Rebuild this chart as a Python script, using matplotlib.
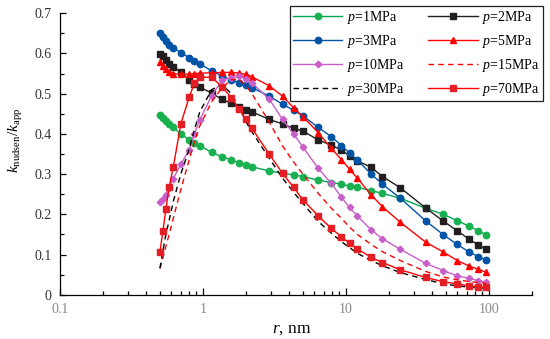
import matplotlib
matplotlib.use("Agg")
import matplotlib.pyplot as plt
from matplotlib.ticker import FuncFormatter, LogLocator, MultipleLocator, FixedLocator

plt.rcParams['font.family'] = ['Liberation Serif', 'DejaVu Serif']
plt.rcParams['mathtext.fontset'] = 'custom'
plt.rcParams['mathtext.rm'] = 'Liberation Serif'
plt.rcParams['mathtext.it'] = 'Liberation Serif:italic'

# pore radius grid (nm)
r = [0.5, 0.525, 0.55, 0.58, 0.62, 0.7, 0.8, 0.87, 0.95, 1.15, 1.36, 1.58, 1.8, 2.0, 2.2,
     2.9, 3.6, 4.3, 5.0, 6.4, 7.9, 9.3, 10.6, 12, 15, 18, 24, 36, 48, 60, 72, 84, 96]

p1 = [0.447, 0.440, 0.432, 0.425, 0.416, 0.400, 0.385, 0.377, 0.371, 0.354, 0.343, 0.335,
      0.328, 0.323, 0.318, 0.308, 0.302, 0.298, 0.294, 0.285, 0.279, 0.275, 0.270, 0.267,
      0.259, 0.252, 0.240, 0.215, 0.200, 0.184, 0.171, 0.159, 0.149]
p2 = [0.600, 0.593, 0.585, 0.575, 0.566, 0.555, 0.534, 0.525, 0.517, 0.501, 0.486, 0.476,
      0.466, 0.459, 0.455, 0.436, 0.425, 0.414, 0.407, 0.385, 0.372, 0.360, 0.345, 0.333,
      0.317, 0.294, 0.266, 0.216, 0.183, 0.159, 0.139, 0.124, 0.113]
p3 = [0.650, 0.641, 0.632, 0.622, 0.614, 0.602, 0.590, 0.581, 0.574, 0.557, 0.544, 0.534,
      0.527, 0.521, 0.515, 0.494, 0.474, 0.459, 0.445, 0.416, 0.393, 0.371, 0.352, 0.335,
      0.300, 0.275, 0.240, 0.184, 0.149, 0.125, 0.107, 0.095, 0.086]
p5 = [0.580, 0.570, 0.562, 0.555, 0.550, 0.548, 0.549, 0.550, 0.551, 0.552, 0.553, 0.553,
      0.551, 0.548, 0.542, 0.520, 0.494, 0.465, 0.443, 0.403, 0.364, 0.336, 0.312, 0.290,
      0.248, 0.219, 0.180, 0.131, 0.106, 0.085, 0.072, 0.063, 0.056]
p10 = [0.231, 0.239, 0.249, 0.266, 0.289, 0.324, 0.361, 0.400, 0.435, 0.495, 0.534, 0.540,
       0.543, 0.537, 0.527, 0.487, 0.436, 0.400, 0.367, 0.314, 0.277, 0.242, 0.217, 0.196,
       0.161, 0.139, 0.113, 0.078, 0.060, 0.047, 0.041, 0.035, 0.031]
p15 = [0.065, 0.093, 0.120, 0.150, 0.190, 0.262, 0.335, 0.380, 0.420, 0.480, 0.515, 0.535,
       0.535, 0.520, 0.500, 0.430, 0.370, 0.330, 0.300, 0.252, 0.215, 0.190, 0.168, 0.150,
       0.125, 0.107, 0.085, 0.058, 0.044, 0.037, 0.033, 0.030, 0.028]
p30 = [0.066, 0.110, 0.150, 0.185, 0.232, 0.300, 0.362, 0.410, 0.455, 0.510, 0.523, 0.500,
       0.465, 0.430, 0.405, 0.340, 0.290, 0.255, 0.227, 0.182, 0.153, 0.132, 0.117, 0.103,
       0.085, 0.072, 0.055, 0.038, 0.027, 0.022, 0.019, 0.017, 0.016]
p70 = [0.107, 0.159, 0.213, 0.268, 0.318, 0.425, 0.491, 0.526, 0.541, 0.541, 0.517, 0.490,
       0.461, 0.436, 0.414, 0.350, 0.302, 0.267, 0.236, 0.196, 0.165, 0.144, 0.128, 0.114,
       0.093, 0.080, 0.062, 0.043, 0.032, 0.027, 0.022, 0.020, 0.018]

labels = ['$p$=1MPa', '$p$=2MPa', '$p$=3MPa', '$p$=5MPa',
          '$p$=10MPa', '$p$=15MPa', '$p$=30MPa', '$p$=70MPa']

fig = plt.figure(figsize=(5.5, 3.39), dpi=100)
ax = fig.add_axes([60/550, 1-294.7/339, (532-60)/550, (294.7-13.3)/339])

h = {}
h[1], = ax.plot(r, p1, '-o', color='#00A651', mfc='#19B150', mec='#19B150', ms=4.6, lw=1.0, label=labels[0])
h[2], = ax.plot(r, p2, '-s', color='#231F20', mfc='#231F20', mec='#231F20', ms=4.4, lw=1.0, label=labels[1])
h[3], = ax.plot(r, p3, '-o', color='#0054A6', mfc='#0054A6', mec='#0054A6', ms=4.6, lw=1.0, label=labels[2])
h[5], = ax.plot(r, p5, '-^', color='#FF0000', mfc='#FF0000', mec='#FF0000', ms=4.8, lw=1.0, label=labels[3])
h[10], = ax.plot(r, p10, '-D', color='#C85FC8', mfc='#C85FC8', mec='#C85FC8', ms=3.3, lw=1.0, label=labels[4])
h[15], = ax.plot(r, p15, '--', color='#FF0000', lw=1.0, dashes=(4, 3), label=labels[5])
h[30], = ax.plot(r, p30, '--', color='#000000', lw=1.0, dashes=(4, 3), label=labels[6])
h[70], = ax.plot(r, p70, '-s', color='#FF0000', mfc='#E31E24', mec='#E31E24', ms=4.4, lw=1.0, label=labels[7])

ax.set_xscale('log')
ax.set_xlim(0.1, 200)
ax.set_ylim(0, 0.7)

for s in ['top', 'right']:
    ax.spines[s].set_visible(False)
for s in ['left', 'bottom']:
    ax.spines[s].set_linewidth(0.9)

ax.xaxis.set_major_locator(FixedLocator([0.1, 1, 10, 100]))
ax.xaxis.set_minor_locator(LogLocator(base=10, subs=[2, 3, 4, 5, 6, 7, 8, 9], numticks=20))
ax.xaxis.set_major_formatter(FuncFormatter(lambda v, pos: '%g' % v))
ax.xaxis.set_minor_formatter(FuncFormatter(lambda v, pos: ''))
ax.yaxis.set_major_locator(MultipleLocator(0.1))
ax.yaxis.set_minor_locator(MultipleLocator(0.05))
ax.yaxis.set_major_formatter(FuncFormatter(lambda v, pos: '%g' % round(v, 2)))

ax.tick_params(axis='x', which='major', direction='in', length=5, width=0.9, labelsize=10,
               labelcolor='#8A8A8A', pad=6)
ax.tick_params(axis='x', which='minor', direction='in', length=3, width=0.9)
ax.tick_params(axis='y', which='major', direction='in', length=4, width=0.9, labelsize=10,
               labelcolor='#333333', pad=6)
ax.tick_params(axis='y', which='minor', direction='in', length=3, width=0.9)

ax.set_xlabel('$r$, nm', fontsize=12.5, labelpad=2)
ax.xaxis.set_label_coords(0.49, -0.095)
ax.set_ylabel('$k_{\\mathrm{nudsen}}/k_{\\mathrm{app}}$', fontsize=11)
ax.yaxis.set_label_coords(-0.074, 0.55)

order = [1, 3, 10, 30, 2, 5, 15, 70]
leg = ax.legend([h[k] for k in order], [h[k].get_label() for k in order], ncol=2,
                loc='upper right', bbox_to_anchor=(543/550, 1-6/339), bbox_transform=fig.transFigure,
                fontsize=10, frameon=True, fancybox=False, edgecolor='#231F20', framealpha=1,
                handlelength=3.55, handletextpad=0.35, columnspacing=1.7, labelspacing=0.5,
                borderpad=0.22, borderaxespad=0)
leg.get_frame().set_linewidth(0.9)

fig.savefig('out.png', dpi=100)
